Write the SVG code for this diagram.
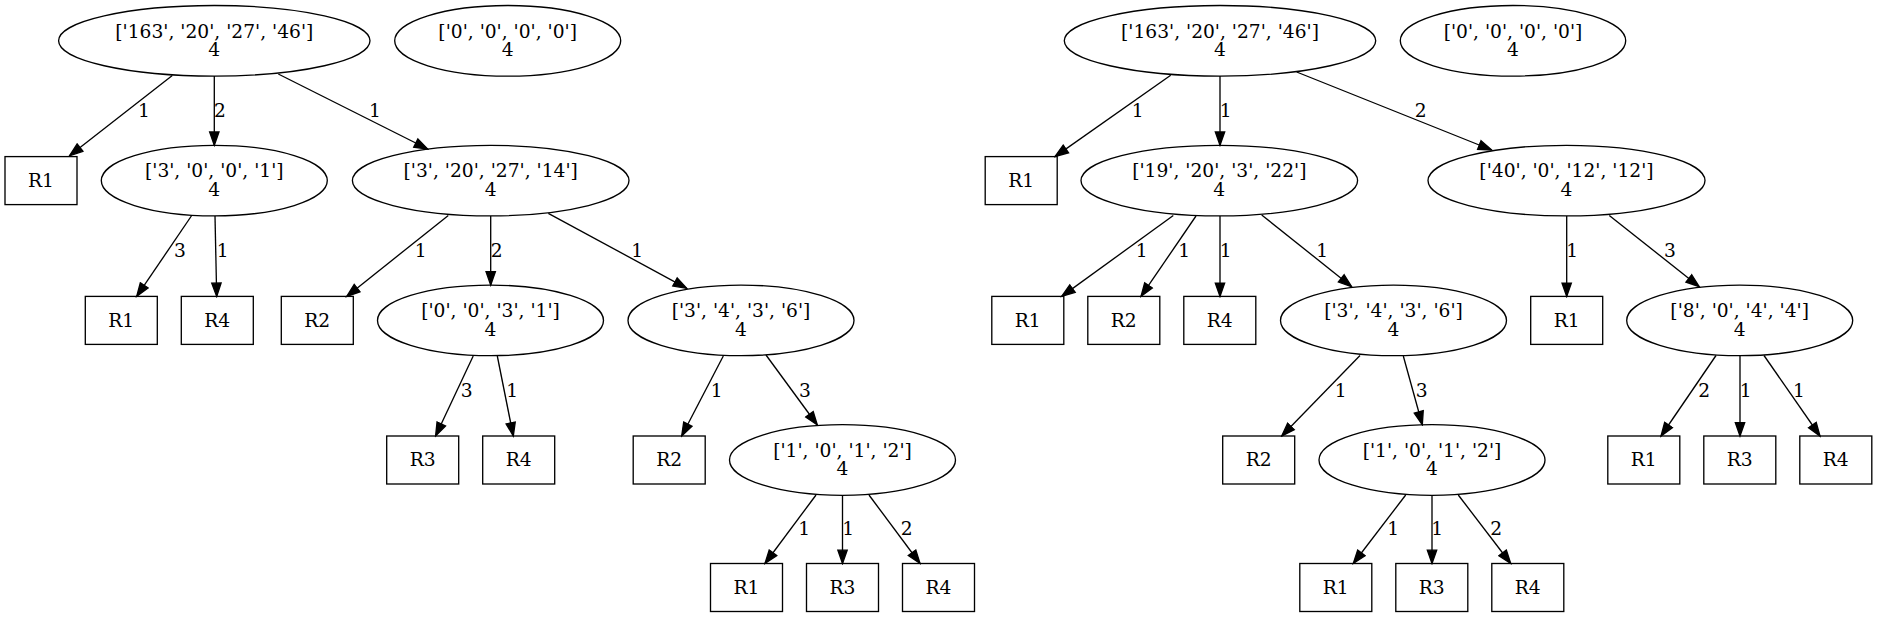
<svg xmlns="http://www.w3.org/2000/svg" width="1877" height="617" viewBox="0 0 1877 617">
<style>
.n ellipse,.n rect{fill:none;stroke:#000;stroke-width:1.33}
text{font-family:"DejaVu Serif",serif;font-size:18.67px;fill:#000;text-anchor:middle}
.e line{stroke:#000;stroke-width:1.33;marker-end:url(#ah)}
</style>
<defs>
<marker id="ah" markerUnits="userSpaceOnUse" markerWidth="16" markerHeight="12" refX="13.33" refY="0" viewBox="-1 -6 16 12" orient="auto">
<path d="M0,-4.67L13.33,0L0,4.67Z" fill="#000" stroke="#000" stroke-width="1.33"/>
</marker>
</defs>
<rect width="1877" height="617" fill="#fff"/>
<g id="connectors" class="e">
<line x1="172.3" y1="75.5" x2="69.5" y2="155.8"/>
<line x1="214.3" y1="76.1" x2="214.3" y2="145.3"/>
<line x1="278.3" y1="74" x2="427.7" y2="149"/>
<line x1="191.7" y1="215.5" x2="136.7" y2="296.4"/>
<line x1="215" y1="216" x2="216.7" y2="296.4"/>
<line x1="448.3" y1="215.5" x2="346.7" y2="296.4"/>
<line x1="490.7" y1="215.9" x2="490.7" y2="285.1"/>
<line x1="548.3" y1="213.3" x2="686.7" y2="288.3"/>
<line x1="473.2" y1="356" x2="435.6" y2="436"/>
<line x1="497.3" y1="356" x2="513.3" y2="436"/>
<line x1="723.3" y1="356" x2="681.7" y2="436"/>
<line x1="766" y1="355" x2="817.3" y2="425"/>
<line x1="816" y1="495" x2="765" y2="563.5"/>
<line x1="842.5" y1="495" x2="842.5" y2="563.5"/>
<line x1="869" y1="495" x2="920" y2="563.5"/>
<line x1="1170.7" y1="75.3" x2="1055" y2="156.6"/>
<line x1="1220" y1="76" x2="1220" y2="145.3"/>
<line x1="1296.7" y1="72" x2="1491.7" y2="150"/>
<line x1="1173.3" y1="215.5" x2="1061.7" y2="296.4"/>
<line x1="1196" y1="216" x2="1141" y2="296.4"/>
<line x1="1220" y1="216" x2="1220" y2="296.4"/>
<line x1="1261.7" y1="215" x2="1351.7" y2="286.7"/>
<line x1="1566.7" y1="216" x2="1566.7" y2="296.4"/>
<line x1="1609.3" y1="215.5" x2="1699.3" y2="286.7"/>
<line x1="1360" y1="355.5" x2="1281.7" y2="436"/>
<line x1="1403.3" y1="356" x2="1422.3" y2="424.7"/>
<line x1="1716" y1="355.5" x2="1661" y2="436"/>
<line x1="1740" y1="355.5" x2="1740" y2="436"/>
<line x1="1764" y1="355.5" x2="1820" y2="436"/>
<line x1="1405.7" y1="495" x2="1353.3" y2="563.5"/>
<line x1="1432" y1="495" x2="1432" y2="563.5"/>
<line x1="1458.3" y1="495" x2="1510.7" y2="563.5"/>
<g id="edge-labels">
<text x="144" y="116.7">1</text>
<text x="220" y="116.7">2</text>
<text x="375" y="116.7">1</text>
<text x="180" y="256.7">3</text>
<text x="222.7" y="256.7">1</text>
<text x="420.7" y="256.7">1</text>
<text x="496.7" y="256.7">2</text>
<text x="637.3" y="256.7">1</text>
<text x="466.8" y="396.7">3</text>
<text x="512.3" y="396.7">1</text>
<text x="716.7" y="396.7">1</text>
<text x="805" y="396.7">3</text>
<text x="804.3" y="535">1</text>
<text x="848.3" y="535">1</text>
<text x="906.7" y="535">2</text>
<text x="1137.7" y="116.7">1</text>
<text x="1225.7" y="116.7">1</text>
<text x="1420.7" y="116.7">2</text>
<text x="1141.7" y="256.7">1</text>
<text x="1184.3" y="256.7">1</text>
<text x="1225.7" y="256.7">1</text>
<text x="1322.3" y="256.7">1</text>
<text x="1572.3" y="256.7">1</text>
<text x="1670" y="256.7">3</text>
<text x="1340.7" y="396.7">1</text>
<text x="1421.7" y="396.7">3</text>
<text x="1704.3" y="396.7">2</text>
<text x="1745.7" y="396.7">1</text>
<text x="1799" y="396.7">1</text>
<text x="1393.3" y="535">1</text>
<text x="1437.3" y="535">1</text>
<text x="1496.2" y="535">2</text>
</g>
</g>
<!-- Left tree -->
<g id="L0" class="n"><ellipse cx="214.3" cy="40.8" rx="155.7" ry="35.3"/><text x="214.3" y="37.5">['163', '20', '27', '46']</text><text x="214.3" y="56.1">4</text></g>
<g id="Lz" class="n"><ellipse cx="507.7" cy="40.8" rx="113" ry="35.3"/><text x="507.7" y="37.5">['0', '0', '0', '0']</text><text x="507.7" y="56.1">4</text></g>
<g id="L1a" class="n"><rect x="5" y="156.6" width="72" height="48"/><text x="41" y="186.8">R1</text></g>
<g id="L1b" class="n"><ellipse cx="214.3" cy="180.6" rx="113" ry="35.3"/><text x="214.3" y="177.3">['3', '0', '0', '1']</text><text x="214.3" y="195.9">4</text></g>
<g id="L1c" class="n"><ellipse cx="490.7" cy="180.6" rx="138.3" ry="35.3"/><text x="490.7" y="177.3">['3', '20', '27', '14']</text><text x="490.7" y="195.9">4</text></g>
<g id="L2a" class="n"><rect x="85.3" y="296.4" width="72" height="48"/><text x="121.3" y="326.6">R1</text></g>
<g id="L2b" class="n"><rect x="181.3" y="296.4" width="72" height="48"/><text x="217.3" y="326.6">R4</text></g>
<g id="L2c" class="n"><rect x="281.3" y="296.4" width="72" height="48"/><text x="317.3" y="326.6">R2</text></g>
<g id="L2d" class="n"><ellipse cx="490.5" cy="320.4" rx="113" ry="35.3"/><text x="490.5" y="317.1">['0', '0', '3', '1']</text><text x="490.5" y="335.7">4</text></g>
<g id="L2e" class="n"><ellipse cx="741" cy="320.4" rx="113" ry="35.3"/><text x="741" y="317.1">['3', '4', '3', '6']</text><text x="741" y="335.7">4</text></g>
<g id="L3a" class="n"><rect x="386.7" y="436" width="72" height="48"/><text x="422.7" y="466.2">R3</text></g>
<g id="L3b" class="n"><rect x="482.7" y="436" width="72" height="48"/><text x="518.7" y="466.2">R4</text></g>
<g id="L3c" class="n"><rect x="633.2" y="436" width="72" height="48"/><text x="669.2" y="466.2">R2</text></g>
<g id="L3d" class="n"><ellipse cx="842.5" cy="460" rx="113" ry="35.3"/><text x="842.5" y="456.7">['1', '0', '1', '2']</text><text x="842.5" y="475.3">4</text></g>
<g id="L4a" class="n"><rect x="710.5" y="563.5" width="72" height="48"/><text x="746.5" y="593.7">R1</text></g>
<g id="L4b" class="n"><rect x="806.5" y="563.5" width="72" height="48"/><text x="842.5" y="593.7">R3</text></g>
<g id="L4c" class="n"><rect x="902.5" y="563.5" width="72" height="48"/><text x="938.5" y="593.7">R4</text></g>
<!-- Right tree -->
<g id="R0" class="n"><ellipse cx="1220" cy="40.8" rx="155.7" ry="35.3"/><text x="1220" y="37.5">['163', '20', '27', '46']</text><text x="1220" y="56.1">4</text></g>
<g id="Rz" class="n"><ellipse cx="1513" cy="40.8" rx="112.7" ry="35.3"/><text x="1513" y="37.5">['0', '0', '0', '0']</text><text x="1513" y="56.1">4</text></g>
<g id="R1a" class="n"><rect x="985.2" y="156.6" width="72" height="48"/><text x="1021.2" y="186.8">R1</text></g>
<g id="R1b" class="n"><ellipse cx="1219.3" cy="180.6" rx="138.3" ry="35.3"/><text x="1219.3" y="177.3">['19', '20', '3', '22']</text><text x="1219.3" y="195.9">4</text></g>
<g id="R1c" class="n"><ellipse cx="1566.5" cy="180.6" rx="138.5" ry="35.3"/><text x="1566.5" y="177.3">['40', '0', '12', '12']</text><text x="1566.5" y="195.9">4</text></g>
<g id="R2a" class="n"><rect x="991.8" y="296.4" width="72" height="48"/><text x="1027.8" y="326.6">R1</text></g>
<g id="R2b" class="n"><rect x="1087.8" y="296.4" width="72" height="48"/><text x="1123.8" y="326.6">R2</text></g>
<g id="R2c" class="n"><rect x="1183.8" y="296.4" width="72" height="48"/><text x="1219.8" y="326.6">R4</text></g>
<g id="R2d" class="n"><ellipse cx="1393.5" cy="320.4" rx="113" ry="35.3"/><text x="1393.5" y="317.1">['3', '4', '3', '6']</text><text x="1393.5" y="335.7">4</text></g>
<g id="R2e" class="n"><rect x="1530.7" y="296.4" width="72" height="48"/><text x="1566.7" y="326.6">R1</text></g>
<g id="R2f" class="n"><ellipse cx="1739.7" cy="320.4" rx="113" ry="35.3"/><text x="1739.7" y="317.1">['8', '0', '4', '4']</text><text x="1739.7" y="335.7">4</text></g>
<g id="R3a" class="n"><rect x="1222.7" y="436" width="72" height="48"/><text x="1258.7" y="466.2">R2</text></g>
<g id="R3b" class="n"><ellipse cx="1432" cy="460" rx="113" ry="35.3"/><text x="1432" y="456.7">['1', '0', '1', '2']</text><text x="1432" y="475.3">4</text></g>
<g id="R3c" class="n"><rect x="1607.8" y="436" width="72" height="48"/><text x="1643.8" y="466.2">R1</text></g>
<g id="R3d" class="n"><rect x="1703.8" y="436" width="72" height="48"/><text x="1739.8" y="466.2">R3</text></g>
<g id="R3e" class="n"><rect x="1799.8" y="436" width="72" height="48"/><text x="1835.8" y="466.2">R4</text></g>
<g id="R4a" class="n"><rect x="1299.8" y="563.5" width="72" height="48"/><text x="1335.8" y="593.7">R1</text></g>
<g id="R4b" class="n"><rect x="1395.8" y="563.5" width="72" height="48"/><text x="1431.8" y="593.7">R3</text></g>
<g id="R4c" class="n"><rect x="1491.8" y="563.5" width="72" height="48"/><text x="1527.8" y="593.7">R4</text></g>
</svg>
